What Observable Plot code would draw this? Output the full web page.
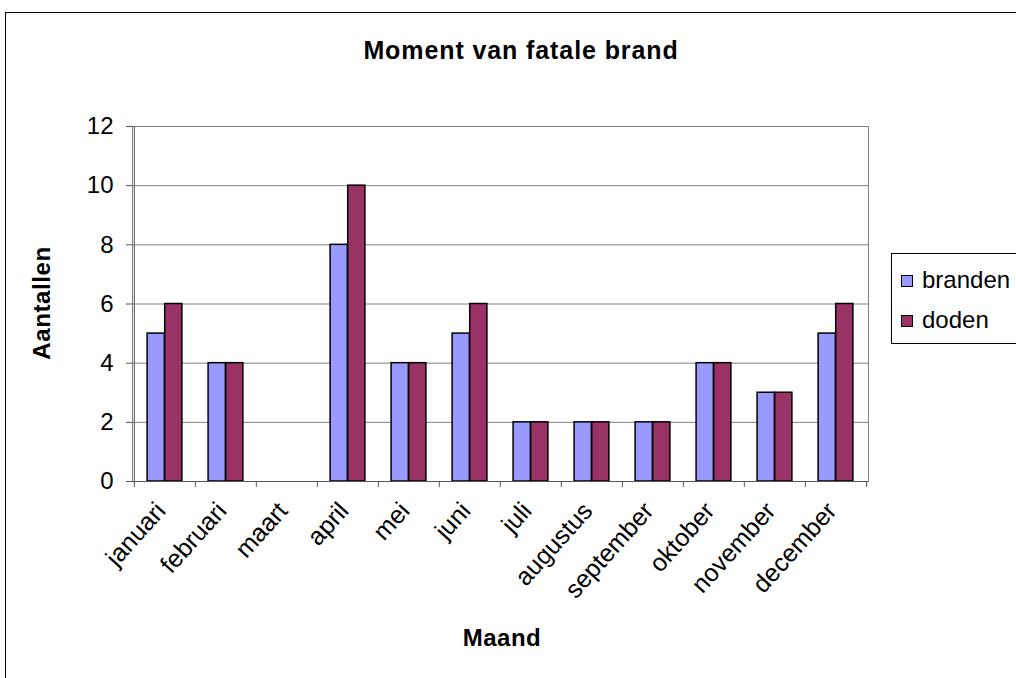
<!DOCTYPE html>
<html><head><meta charset="utf-8">
<script src="https://cdn.jsdelivr.net/npm/d3@7"></script>
<script src="https://cdn.jsdelivr.net/npm/@observablehq/plot@0.6"></script>
<style>
body{margin:0;background:#fff;overflow:hidden}
#wrap{position:relative;width:1016px;height:678px;overflow:hidden;font-family:"Liberation Sans",Arial,sans-serif;color:#000}
#border{position:absolute;left:5px;top:12px;width:1100px;height:800px;border-left:1px solid #000;border-top:1px solid #000}
#chart{position:absolute;left:0;top:0}
.t{position:absolute;font-weight:bold;white-space:nowrap;line-height:1}
#legend{position:absolute;left:891px;top:253px;width:150px;height:89px;border:1px solid #000;background:#fff}
.li{position:absolute;left:9px;font-size:24px;line-height:24px;white-space:nowrap}
.sw{display:inline-block;width:10px;height:10px;border:1px solid #000;margin-right:9px;vertical-align:1px}
</style></head>
<body><div id="wrap"><div id="border"></div><div id="chart"></div>
<div class="t" id="title" style="left:521px;top:38px;font-size:25px;letter-spacing:0.9px;transform:translateX(-50%)">Moment van fatale brand</div>
<div class="t" id="ylab" style="left:42px;top:303px;font-size:24px;letter-spacing:0.6px;transform:translate(-50%,-50%) rotate(-90deg)">Aantallen</div>
<div class="t" id="xlab" style="left:502px;top:626px;font-size:24px;letter-spacing:0.5px;transform:translateX(-50%)">Maand</div>
<div id="legend"></div>
</div>
<script>
const months = ["januari","februari","maart","april","mei","juni","juli","augustus","september","oktober","november","december"];
const branden = [5,4,0,8,4,5,2,2,2,4,3,5];
const doden = [6,4,0,10,4,6,2,2,2,4,3,6];
const seriesNames = ["branden","doden"];
const seriesColors = ["#9999FF","#993366"];
const yTicks = [0,2,4,6,8,10,12];

const data = months.map((m,i)=>({month:m, branden:branden[i], doden:doden[i]}));

const W=1016, H=678, mL=132, mR=148, mT=126, mB=197;
const step=(W-mL-mR)/months.length;
const axisColor="#555";

const plot = Plot.plot({
  width:W, height:H, marginLeft:mL, marginRight:mR, marginTop:mT, marginBottom:mB,
  style:{fontFamily:"'Liberation Sans', Arial, sans-serif", fontSize:"24px", color:"#000", background:"transparent", overflow:"visible"},
  x:{domain:months, padding:0, label:null},
  y:{domain:[0,12], label:null},
  marks:[
    Plot.gridY(yTicks,{stroke:"#808080", strokeOpacity:1}),
    Plot.frame({stroke:"#808080"}),
    Plot.barY(data,{x:"month", y:"branden", filter:d=>d.branden>0, fill:seriesColors[0], stroke:"#000", strokeWidth:1.5, insetLeft:step*0.2136, insetRight:step*0.4994}),
    Plot.barY(data,{x:"month", y:"doden", filter:d=>d.doden>0, fill:seriesColors[1], stroke:"#000", strokeWidth:1.5, insetLeft:step*0.5006, insetRight:step*0.2136}),
    Plot.ruleY([0],{stroke:axisColor}),
    Plot.ruleX([0],{x:()=>months[0], dx:-step/2, stroke:axisColor}),
    Plot.axisY(yTicks,{tickSize:6, tickPadding:13, fontSize:24, stroke:axisColor, label:null}),
    Plot.axisX(months,{tickSize:6, tickFormat:()=>"", dx:-step/2, stroke:axisColor, label:null}),
    Plot.axisX([months[11]],{tickSize:6, tickFormat:()=>"", dx:step/2, stroke:axisColor, label:null}),
    Plot.axisX(months,{tickSize:0, tickRotate:-48, tickPadding:25, dx:-4, fontSize:25, label:null})
  ]
});
document.getElementById("chart").appendChild(plot);

const legend=document.getElementById("legend");
seriesNames.forEach((s,i)=>{
  const d=document.createElement("div");
  d.className="li";
  d.style.top=(14+i*40)+"px";
  d.innerHTML=`<span class="sw" style="background:${seriesColors[i]}"></span>${s}`;
  legend.appendChild(d);
});
</script>
</body></html>
